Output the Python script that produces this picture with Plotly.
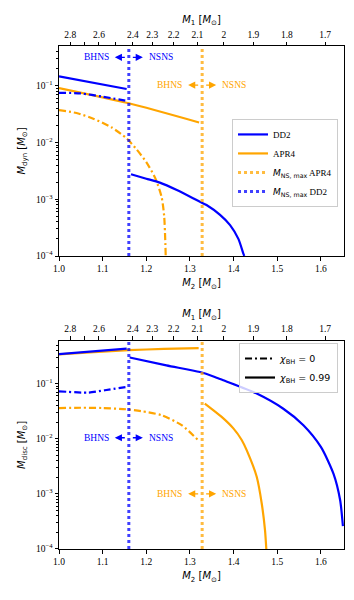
import numpy as np
import plotly.graph_objects as go

# ---------------- data ----------------
CHIRP_MASS = 1.44  # fixed chirp mass linking M1 and M2

m2_tickvals = [1.0, 1.1, 1.2, 1.3, 1.4, 1.5, 1.6]
m2_ticktext = ["1.0", "1.1", "1.2", "1.3", "1.4", "1.5", "1.6"]
m1_tickvals = [2.8, 2.7, 2.6, 2.5, 2.4, 2.3, 2.2, 2.1, 2.0, 1.9, 1.8, 1.7]
m1_ticktext = ["2.8", "", "2.6", "", "2.4", "2.3", "2.2", "2.1", "2", "1.9", "1.8", "1.7"]
y_tickvals = [1e-4, 1e-3, 1e-2, 1e-1]
y_ticktext = ["10<sup>−4</sup>", "10<sup>−3</sup>", "10<sup>−2</sup>", "10<sup>−1</sup>"]

x_range = [1.0, 1.653]
dyn_y_range = [1e-4, 0.5]
disc_y_range = [1e-4, 0.6]

m2_max_dd2 = 1.16     # M2 at which M1 = M_NS,max (DD2)
m2_max_apr4 = 1.328   # M2 at which M1 = M_NS,max (APR4)

# --- top panel: dynamical ejecta ---
dyn_dd2_bhns_x = [1.0, 1.155]
dyn_dd2_bhns_099 = [0.146, 0.0875]
dyn_dd2_bhns0_x = [1.0, 1.05, 1.1, 1.155]
dyn_dd2_bhns_0 = [0.075, 0.073, 0.064, 0.054]
dyn_dd2_nsns_x = [1.165, 1.2, 1.231, 1.27, 1.323, 1.338, 1.369, 1.392, 1.411, 1.4224, 1.4245]
dyn_dd2_nsns = [0.00275, 0.0023, 0.00196, 0.00145, 0.0009, 0.00079, 0.00053, 0.00035, 0.0002, 0.00011, 0.0001]

dyn_apr4_bhns_x = [1.0, 1.16, 1.321]
dyn_apr4_bhns_099 = [0.091, 0.049, 0.0225]
dyn_apr4_bhns0_x = [1.0, 1.04, 1.08, 1.12, 1.155, 1.178, 1.2, 1.22, 1.235, 1.241, 1.2445]
dyn_apr4_bhns_0 = [0.037, 0.033, 0.026, 0.0185, 0.0118, 0.0075, 0.0045, 0.0024, 0.0011, 0.0005, 0.0001]

# --- bottom panel: disc mass ---
disc_dd2_bhns_x = [1.0, 1.155]
disc_dd2_bhns_099 = [0.343, 0.43]
disc_dd2_bhns0_x = [1.0, 1.067, 1.105, 1.155]
disc_dd2_bhns_0 = [0.0726, 0.0687, 0.0758, 0.087]
disc_dd2_nsns_x = [1.162, 1.246, 1.323, 1.357, 1.3765, 1.453, 1.514, 1.56, 1.6, 1.629, 1.644, 1.6505]
disc_dd2_nsns = [0.298, 0.214, 0.162, 0.132, 0.115, 0.066, 0.035, 0.0176, 0.0071, 0.0023, 0.00078, 0.00026]

disc_apr4_bhns_x = [1.0, 1.08, 1.16, 1.24, 1.32]
disc_apr4_bhns_099 = [0.338, 0.372, 0.405, 0.425, 0.44]
disc_apr4_bhns0_x = [1.0, 1.05, 1.1, 1.153, 1.189, 1.235, 1.281, 1.319]
disc_apr4_bhns_0 = [0.036, 0.0365, 0.036, 0.0343, 0.0316, 0.0267, 0.0176, 0.0094]
disc_apr4_nsns_x = [1.334, 1.3727, 1.3995, 1.4186, 1.43, 1.453, 1.4645, 1.472, 1.475]
disc_apr4_nsns = [0.0435, 0.0249, 0.0154, 0.0095, 0.0062, 0.00204, 0.00067, 0.00022, 0.0001]

# ---------------- helpers ----------------
BLUE = "#0000ff"
ORANGE = "#ffa500"
SERIF = "Liberation Serif"
SANS = "DejaVu Sans"
LW = 2.2


def m2_from_m1(m1, mc=CHIRP_MASS):
    # (m1 m2)^3 = mc^5 (m1 + m2)  ->  m1^3 m2^3 - mc^5 m2 - mc^5 m1 = 0
    roots = np.roots([m1 ** 3, 0.0, -mc ** 5, -mc ** 5 * m1])
    real = [r.real for r in roots if abs(r.imag) < 1e-9 and r.real > 0]
    return float(real[0])


m1_tickpos = [m2_from_m1(m) for m in m1_tickvals]


def minor_log(lo, hi):
    vals = []
    for e in range(-5, 1):
        for k in range(2, 10):
            v = k * 10.0 ** e
            if lo < v < hi:
                vals.append(v)
    return vals


fig = go.Figure()


def line(x, y, color, dash, xa, ya, name=None, legend=None, showlegend=False, opacity=1.0,
         width=LW, smooth=True):
    ln = dict(color=color, dash=dash, width=width)
    if smooth and len(x) > 2:
        ln.update(shape="spline", smoothing=0.7)
    fig.add_trace(go.Scatter(
        x=x, y=y, mode="lines", name=name, showlegend=showlegend,
        legend=legend, opacity=opacity, line=ln,
        xaxis=xa, yaxis=ya, hoverinfo="skip"))


DASHDOT = "7px,3px,2px,3px"
DOT = "3px,3px"

# top panel
line(dyn_dd2_bhns_x, dyn_dd2_bhns_099, BLUE, "solid", "x", "y", name="DD2", legend="legend", showlegend=True)
line(dyn_apr4_bhns_x, dyn_apr4_bhns_099, ORANGE, "solid", "x", "y", name="APR4", legend="legend", showlegend=True)
line(dyn_dd2_bhns0_x, dyn_dd2_bhns_0, BLUE, DASHDOT, "x", "y")
line(dyn_apr4_bhns0_x, dyn_apr4_bhns_0, ORANGE, DASHDOT, "x", "y")
line(dyn_dd2_nsns_x, dyn_dd2_nsns, BLUE, "solid", "x", "y")
# vertical limits are drawn on the (identical-range) top M1 axis so that it gets rendered
line([m2_max_apr4, m2_max_apr4], dyn_y_range, ORANGE, DOT, "x3", "y",
     name='<span style="font-family:DejaVu Sans"><i>M</i><sub>NS, max</sub></span> APR4',
     legend="legend", showlegend=True, opacity=0.75, width=3)
line([m2_max_dd2, m2_max_dd2], dyn_y_range, BLUE, DOT, "x3", "y",
     name='<span style="font-family:DejaVu Sans"><i>M</i><sub>NS, max</sub></span> DD2',
     legend="legend", showlegend=True, opacity=0.75, width=3)

# bottom panel
line(disc_apr4_bhns_x, disc_apr4_bhns_099, ORANGE, "solid", "x2", "y2")
line(disc_dd2_bhns_x, disc_dd2_bhns_099, BLUE, "solid", "x2", "y2")
line(disc_dd2_bhns0_x, disc_dd2_bhns_0, BLUE, DASHDOT, "x2", "y2")
line(disc_apr4_bhns0_x, disc_apr4_bhns_0, ORANGE, DASHDOT, "x2", "y2")
line(disc_dd2_nsns_x, disc_dd2_nsns, BLUE, "solid", "x2", "y2")
line(disc_apr4_nsns_x, disc_apr4_nsns, ORANGE, "solid", "x2", "y2")
line([m2_max_apr4, m2_max_apr4], disc_y_range, ORANGE, DOT, "x4", "y2", opacity=0.75, width=3)
line([m2_max_dd2, m2_max_dd2], disc_y_range, BLUE, DOT, "x4", "y2", opacity=0.75, width=3)
line([None], [None], "black", DASHDOT, "x2", "y2", name="<i>χ</i><sub>BH</sub> = 0",
     legend="legend2", showlegend=True)
line([None], [None], "black", "solid", "x2", "y2", name="<i>χ</i><sub>BH</sub> = 0.99",
     legend="legend2", showlegend=True)

# ---------------- axes ----------------
tickfont = dict(family=SERIF, size=9.5, color="black")
titlefont = dict(family=SANS, size=10, color="black")

TOP_DOM = [0.5825, 1.0]
BOT_DOM = [0.0, 0.4141]


def xbottom(anchor):
    return dict(domain=[0, 1], anchor=anchor, range=x_range, tickvals=m2_tickvals, ticktext=m2_ticktext,
                ticks="outside", ticklen=3.5, tickwidth=0.8, tickcolor="black",
                showline=True, linecolor="black", linewidth=1, mirror=True, automargin=False,
                showgrid=False, zeroline=False, tickfont=tickfont,
                title=dict(text="<i>M</i><sub>2</sub> [<i>M</i><sub>⊙</sub>]", font=titlefont, standoff=6))


def xtop(over, anchor):
    return dict(overlaying=over, side="top", anchor=anchor, range=x_range,
                tickvals=m1_tickpos, ticktext=m1_ticktext, automargin=False,
                ticks="outside", ticklen=3.5, tickwidth=0.8, tickcolor="black",
                showline=True, linecolor="black", linewidth=1,
                showgrid=False, zeroline=False, tickfont=tickfont,
                title=dict(text="<i>M</i><sub>1</sub> [<i>M</i><sub>⊙</sub>]", font=titlefont, standoff=4))


def ylog(dom, anchor, rng, title):
    return dict(domain=dom, anchor=anchor, type="log", range=[np.log10(rng[0]), np.log10(rng[1])],
                tickvals=y_tickvals, ticktext=y_ticktext, automargin=False,
                ticks="outside", ticklen=3.5, tickwidth=0.8, tickcolor="black",
                minor=dict(tickvals=minor_log(rng[0], rng[1]), ticks="outside", ticklen=2,
                           tickwidth=0.6, tickcolor="black", showgrid=False),
                showline=True, linecolor="black", linewidth=1, mirror=True,
                showgrid=False, zeroline=False, tickfont=tickfont,
                title=dict(text=title, font=titlefont, standoff=8))


# ---------------- annotations ----------------
PX = 0.1 / 43.56
annotations = []


def bhns_nsns(xref, yref, xline, yfrac, color):
    f = dict(family=SERIF, size=9.5, color=color)
    annotations.append(dict(xref=xref, yref=yref, x=xline - 18 * PX, y=yfrac, text="BHNS",
                            showarrow=False, xanchor="right", yanchor="middle", font=f))
    annotations.append(dict(xref=xref, yref=yref, x=xline + 18 * PX, y=yfrac, text="NSNS",
                            showarrow=False, xanchor="left", yanchor="middle", font=f))
    for head, tail in [(xline - 14 * PX, xline - 2.5 * PX), (xline + 14 * PX, xline + 2.5 * PX)]:
        annotations.append(dict(xref=xref, yref=yref, x=head, y=yfrac, axref=xref, ayref=yref,
                                ax=tail, ay=yfrac, text="", showarrow=True, arrowhead=2,
                                arrowsize=1.1, arrowwidth=1.3, arrowcolor=color))


bhns_nsns("x", "y domain", m2_max_dd2, 0.946, BLUE)
bhns_nsns("x", "y domain", m2_max_apr4, 0.814, ORANGE)
bhns_nsns("x2", "y2 domain", m2_max_dd2, 0.534, BLUE)
bhns_nsns("x2", "y2 domain", m2_max_apr4, 0.265, ORANGE)

# the page body adds an 8 px offset, so the figure is 8 px smaller and margins shifted
fig.update_layout(
    width=346, height=592,
    margin=dict(l=51, r=10, t=38, b=51, autoexpand=False),
    paper_bgcolor="white", plot_bgcolor="white",
    xaxis=xbottom("y"),
    xaxis2=xbottom("y2"),
    xaxis3=xtop("x", "y"),
    xaxis4=xtop("x2", "y2"),
    yaxis=ylog(TOP_DOM, "x", dyn_y_range, "<i>M</i><sub>dyn</sub> [<i>M</i><sub>⊙</sub>]"),
    yaxis2=ylog(BOT_DOM, "x2", disc_y_range, "<i>M</i><sub>disc</sub> [<i>M</i><sub>⊙</sub>]"),
    legend=dict(x=0.979, y=0.855, xanchor="right", yanchor="top", bgcolor="rgba(255,255,255,0.8)",
                bordercolor="#cccccc", borderwidth=1, font=dict(family=SERIF, size=9, color="black"),
                itemwidth=30, tracegroupgap=0),
    legend2=dict(x=0.979, y=0.4095, xanchor="right", yanchor="top", bgcolor="rgba(255,255,255,0.8)",
                 bordercolor="#cccccc", borderwidth=1, font=dict(family=SANS, size=9.5, color="black"),
                 itemwidth=30, tracegroupgap=0),
    annotations=annotations,
    showlegend=True,
)

fig.write_html("out.html")
